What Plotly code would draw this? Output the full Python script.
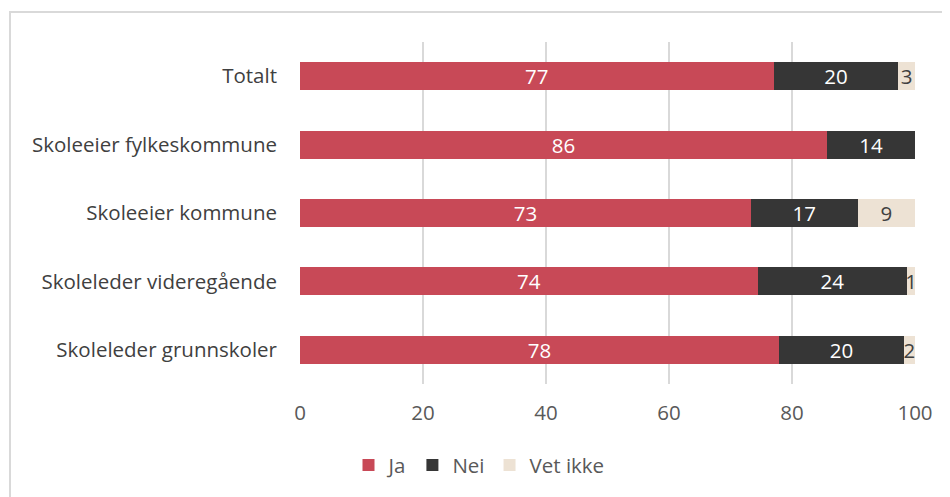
import plotly.graph_objects as go

categories = ["Totalt", "Skoleeier fylkeskommune", "Skoleeier kommune",
              "Skoleleder videregående", "Skoleleder grunnskoler"]
ja = [77.0, 85.7, 73.3, 74.4, 77.9]
nei = [20.3, 14.3, 17.4, 24.3, 20.3]
vet_ikke = [2.7, 0.0, 9.3, 1.3, 1.8]
x_ticks = [0, 20, 40, 60, 80, 100]

FONT = "Open Sans"
FS = 20.5
series = [
    ("Ja", ja, "#C84957", "white"),
    ("Nei", nei, "#363636", "white"),
    ("Vet ikke", vet_ikke, "#EDE2D4", "#404040"),
]

fig = go.Figure()
for name, vals, color, tcolor in series:
    fig.add_trace(go.Bar(
        name=name, y=categories, x=vals, orientation="h",
        marker=dict(color=color, line=dict(width=0)),
        text=[f"{v:.0f}" if v > 0 else "" for v in vals],
        textposition="inside", insidetextanchor="middle",
        textangle=0, constraintext="none",
        textfont=dict(color=tcolor, size=FS, family=FONT),
        hoverinfo="x+name",
    ))

# page body has an 8px margin, so the figure starts at (8, 8)
OFF = 8
W, H = 950 - OFF, 497 - OFF
L, R, T, B = 300 - OFF, 35, 42 - OFF, 113
pw = W - L - R
ph = H - T - B

def px_x(p):
    return (p - OFF - L) / pw

def px_y(p):
    return (H - B - (p - OFF)) / ph

fig.update_layout(
    barmode="stack",
    width=W, height=H,
    margin=dict(l=L, r=R, t=T, b=B),
    paper_bgcolor="white", plot_bgcolor="white",
    bargap=0.59,
    font=dict(family=FONT, size=FS, color="#404040"),
    xaxis=dict(range=[0, 100], tickvals=x_ticks, showgrid=True,
               gridcolor="#D9D9D9", gridwidth=1.5, zeroline=False,
               showline=False, ticks="", ticklabelstandoff=14,
               tickfont=dict(size=FS, color="#595959", family=FONT),
               fixedrange=True),
    yaxis=dict(autorange="reversed", showgrid=False, showline=False,
               ticks="", ticklabelstandoff=22,
               tickfont=dict(size=FS, color="#404040", family=FONT)),
    legend=dict(orientation="h", xref="container", x=0.5, xanchor="center",
                yref="container", y=0.024, yanchor="bottom",
                font=dict(size=FS, color="#595959", family=FONT),
                traceorder="normal", itemwidth=30),
    shapes=[dict(type="rect", xref="paper", yref="paper",
                 x0=px_x(10), x1=px_x(960), y0=px_y(510), y1=px_y(12),
                 line=dict(color="#D9D9D9", width=2), fillcolor="rgba(0,0,0,0)",
                 layer="below")],
)

fig.write_html("out.html")
